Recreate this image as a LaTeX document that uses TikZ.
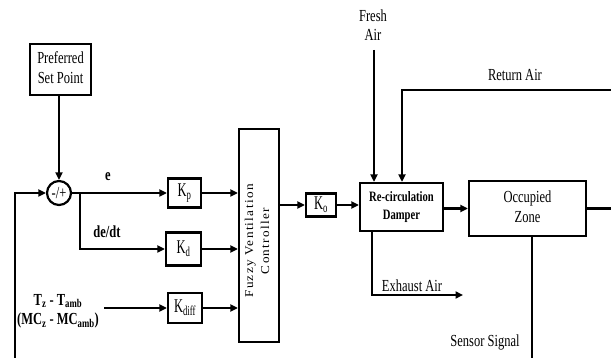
\documentclass[tikz,border=0pt]{standalone}
\usepackage{fontspec}
\setmainfont{Liberation Serif}
\newfontfamily\spacedfont[LetterSpace=10]{Liberation Serif}
\usetikzlibrary{arrows.meta}
\newcommand\tallt[2][1.35]{\scalebox{1}[#1]{#2}}
\newcommand\mlines[1]{\begin{tabular}{@{}c@{}}#1\end{tabular}}
\tikzset{
  box/.style={draw, line width=2.2pt, inner sep=0pt},
  arr/.style={-{Triangle[length=7.5pt,width=7pt]}},
  lbl/.style={inner sep=0pt, font=\fontsize{12.5}{14.5}\selectfont},
  blbl/.style={inner sep=0pt, font=\fontsize{12.5}{14.5}\selectfont\bfseries},
  kfont/.style={font=\fontsize{12.5}{14}\selectfont},
}
\begin{document}
\begin{tikzpicture}[x=1pt,y=-1pt,line width=2.2pt]
\useasboundingbox (0,0) rectangle (611,358);
% blocks
\node[box, lbl, minimum width=61pt, minimum height=51pt] (psp) at (60.5,69.5) {\tallt{\mlines{Preferred\\Set Point}}};
\node[draw, circle, line width=2.2pt, minimum size=24pt, inner sep=0pt, lbl] (sum) at (59,193) {\tallt{-/+}};
\node[box, kfont, minimum width=33pt, minimum height=29pt] (kp) at (184.5,193) {\tallt[1.55]{K\textsubscript{p}}};
\node[box, kfont, minimum width=35pt, minimum height=33pt] (kd) at (183.5,249) {\tallt[1.55]{K\textsubscript{d}}};
\node[box, kfont, minimum width=34pt, minimum height=30pt] (kdiff) at (185,308) {\tallt[1.55]{K\textsubscript{diff}}};
\node[box, minimum width=40pt, minimum height=213pt] (fvc) at (259,235.5) {};
\node[rotate=90, inner sep=0pt] (fvct) at (258,241) {\scalebox{1.1}[1]{\fontsize{12}{16}\spacedfont\begin{tabular}{@{}c@{}}Fuzzy Ventilation\\Controller\end{tabular}}};
\node[box, kfont, minimum width=30pt, minimum height=23pt] (ko) at (321,205) {\tallt[1.55]{K\textsubscript{o}}};
\node[box, font=\fontsize{10.6}{12.8}\selectfont\bfseries, minimum width=83pt, minimum height=48pt] (damper) at (401.5,207) {\tallt{\mlines{Re-circulation\\Damper}}};
\node[box, font=\fontsize{12.5}{14.8}\selectfont, minimum width=117pt, minimum height=55pt] (zone) at (527.5,208.5) {\tallt{\mlines{Occupied\\Zone}}};
% labels
\node[lbl] (fresht) at (373,27) {\tallt{\mlines{Fresh\\Air}}};
\node[lbl] (rett) at (515,75) {\tallt{Return Air}};
\node[lbl] (exht) at (412,286) {\tallt{Exhaust Air}};
\node[lbl] (senst) at (485,342) {\tallt{Sensor Signal}};
\node[blbl] (et) at (108,177) {\tallt{e}};
\node[blbl] (dedt) at (107,232) {\tallt{de/dt}};
\node[blbl] (tt) at (58,311) {\tallt{\mlines{T\textsubscript{z} - T\textsubscript{amb}\\(MC\textsubscript{z} - MC\textsubscript{amb})}}};
% coordinates
\coordinate (br) at (80,193);
\coordinate (tin) at (104,308);
\coordinate (zout) at (611,208.5);
\coordinate (fresh) at (374,50);
\coordinate (ret) at (611,90);
\coordinate (retc) at (402,90);
\coordinate (exc) at (372,295);
\coordinate (exh) at (463,295);
\coordinate (sens) at (532,358);
\coordinate (fb0) at (15,358);
% connectors
\draw[arr] (psp.south -| sum.north) -- (sum.north);
\draw[arr] (sum.east) -- (kp.west);
\draw[arr] (br) |- (kd.west);
\draw[arr] (tin) -- (kdiff.west);
\draw[arr] (kp.east) -- (kp.east -| fvc.west);
\draw[arr] (kd.east) -- (kd.east -| fvc.west);
\draw[arr] (kdiff.east) -- (kdiff.east -| fvc.west);
\draw[arr] (fvc.east |- ko.west) -- (ko.west);
\draw[arr] (ko.east) -- (ko.east -| damper.west);
\draw[arr] (damper.east |- zone.west) -- (zone.west);
\draw (zone.east) -- (zout);
\draw[arr] (fresh) -- (fresh |- damper.north);
\draw[arr] (ret) -- (retc) -- (retc |- damper.north);
\draw[arr] (exc |- damper.south) -- (exc) -- (exh);
\draw (sens |- zone.south) -- (sens);
\draw[arr] (fb0) |- (sum.west);
\end{tikzpicture}
\end{document}
